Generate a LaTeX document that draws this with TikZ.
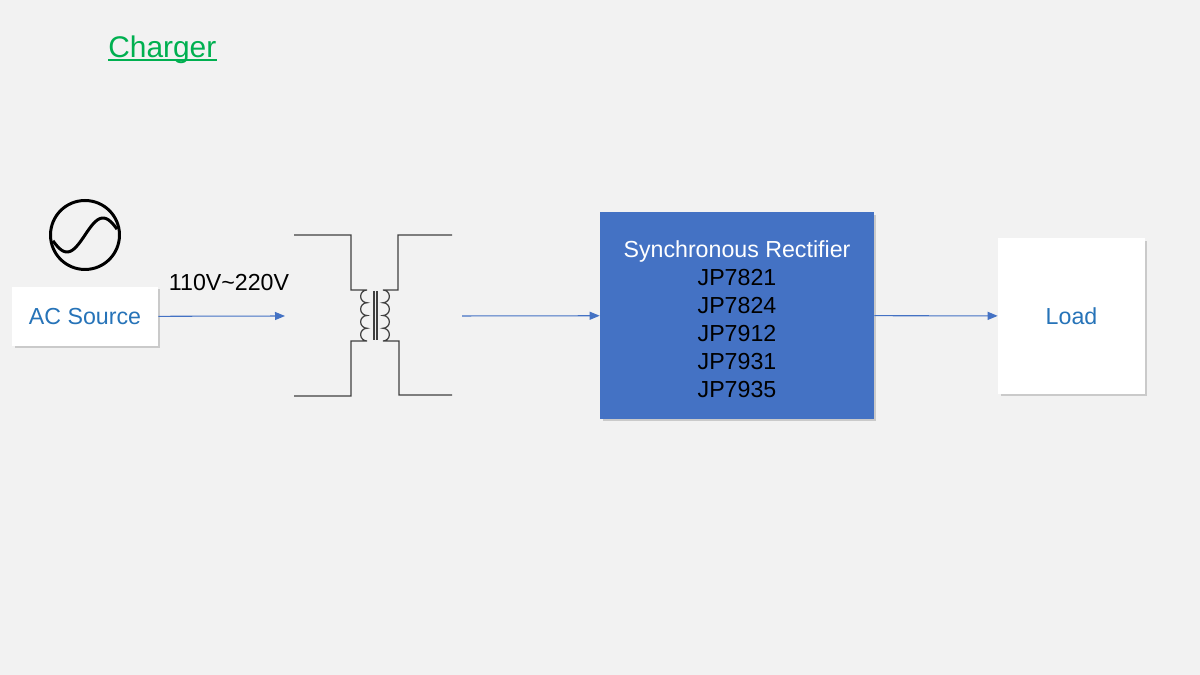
\documentclass[tikz,border=0pt]{standalone}
\usepackage{fontspec}
\setmainfont{Liberation Sans}
\usetikzlibrary{arrows.meta,positioning,shadows,calc}
\definecolor{bg}{HTML}{F2F2F2}
\definecolor{accent}{HTML}{4472C4}
\definecolor{txtblue}{HTML}{2673B8}
\definecolor{titlegreen}{HTML}{00B050}

\begin{document}
\begin{tikzpicture}[x=0.02cm,y=0.02cm,font=\fontsize{13.2}{15.9}\selectfont]
      \tikzstyle{box}=[fill=white,text=txtblue,inner sep=0pt,drop shadow={shadow xshift=0.05cm,shadow yshift=-0.05cm,opacity=0.35}]
      \tikzstyle{link}=[draw=accent,line width=0.6pt,-{Triangle[length=2mm,width=1.6mm]}]
      \tikzstyle{wire}=[draw=black!75,line width=0.7pt]
      \fill[bg] (0,0) rectangle (1200,675);
      \useasboundingbox (0,0) rectangle (1200,675);
      \node[anchor=base west,inner sep=0pt,text=titlegreen,font=\fontsize{17}{20}\selectfont] (title) at (108,617) {Charger};
      \draw[titlegreen,line width=0.7pt] ($(title.base west)+(0,-2)$) -- ($(title.base east)+(0,-2)$);
      % source side
      \node[box,minimum width=2.92cm,minimum height=1.18cm] (src) at (85,358.5) {AC Source};
      \node[circle,draw,line width=1.7pt,minimum size=1.38cm,inner sep=0pt] (sym) at (85,440) {};
      \draw[line width=1.7pt,shift={(sym.center)}] plot[domain=20:340,samples=40,smooth] ({(\x-180)*0.2},{-17*sin(\x)});
      \coordinate (tin) at (285,359);
      \node[inner sep=0pt] (volt) at (229,392) {110V\textasciitilde 220V};
      % transformer
      \draw[wire] (294,440) -- (351,440) -- (351,385) -- (367,385)
        \foreach \i in {1,...,4}{ arc[start angle=90,end angle=270,radius=6.375] }
        -- (351,334) -- (351,279) -- (294,279);
      \draw[wire] (452,440) -- (398,440) -- (398,385) -- (383,385)
        \foreach \i in {1,...,4}{ arc[start angle=90,end angle=-90,radius=6.375] }
        -- (399,334) -- (399,280) -- (452,280);
      \draw[wire] (374,384) -- (374,335) (377,384) -- (377,335);
      \coordinate (tout) at (462,359);
      % rectifier and load
      \node[box,fill=accent,minimum width=5.48cm,minimum height=4.14cm] (rect) at (737,359.5) {};
      \node[align=center,inner sep=0pt] (parts) at ($(rect.center)+(0,-4)$)
        {\textcolor{white}{Synchronous Rectifier}\\JP7821\\JP7824\\JP7912\\JP7931\\JP7935};
      \node[box,minimum width=2.94cm,minimum height=3.12cm] (load) at (1071.5,359) {Load};
      \draw[link] (src) -- (tin);
      \draw[link] (tout) -- (rect);
      \draw[link] (rect) -- (load);
    \end{tikzpicture}
\end{document}
